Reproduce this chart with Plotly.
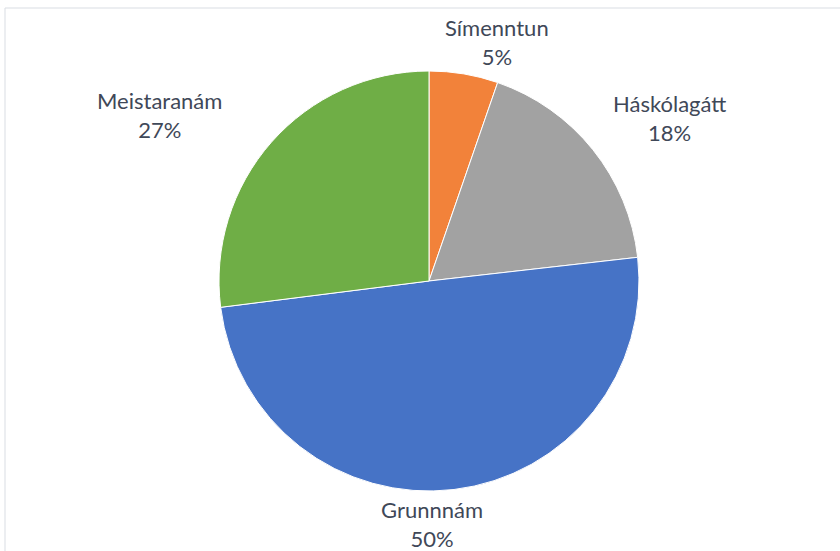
import plotly.graph_objects as go

labels = ["Símenntun", "Háskólagátt", "Grunnnám", "Meistaranám"]
values = [5.3, 17.9, 49.8, 27.0]
colors = ["#F2823A", "#A2A2A2", "#4673C6", "#6FAE46"]

W, H = 840, 551
cx, cy, r = 429, 281, 210

fig = go.Figure(go.Pie(
    labels=labels,
    values=values,
    sort=False,
    direction="clockwise",
    rotation=0,
    marker=dict(colors=colors, line=dict(color="white", width=1)),
    textinfo="none",
    showlegend=False,
    hoverinfo="skip",
    domain=dict(x=[(cx - r) / W, (cx + r) / W],
                y=[(H - cy - r) / H, (H - cy + r) / H]),
))

# data-label block centres (pixels), placed as in the reference layout
label_pos = {
    "Símenntun": (497, 42),
    "Háskólagátt": (669, 118),
    "Grunnnám": (432, 524),
    "Meistaranám": (159, 115),
}
total = sum(values)
for lab, val in zip(labels, values):
    px, py = label_pos[lab]
    fig.add_annotation(
        x=px / W, y=1 - py / H, xref="paper", yref="paper",
        text=f"{lab}<br>{round(val / total * 100)}%",
        showarrow=False, xanchor="center", yanchor="middle", align="center",
        font=dict(family="Lato", size=22, color="#3f4858"),
    )

fig.add_shape(type="rect", xref="paper", yref="paper",
              x0=5 / W, x1=1.1, y0=-0.1, y1=(H - 8) / H,
              line=dict(color="#d9dde3", width=1), fillcolor="rgba(0,0,0,0)", layer="below")

fig.update_layout(
    width=W, height=H,
    margin=dict(l=0, r=0, t=0, b=0),
    paper_bgcolor="white",
    plot_bgcolor="white",
)

fig.write_html("out.html", config={"displayModeBar": False},
               post_script="document.body.style.margin='0';document.body.style.overflow='hidden';")
